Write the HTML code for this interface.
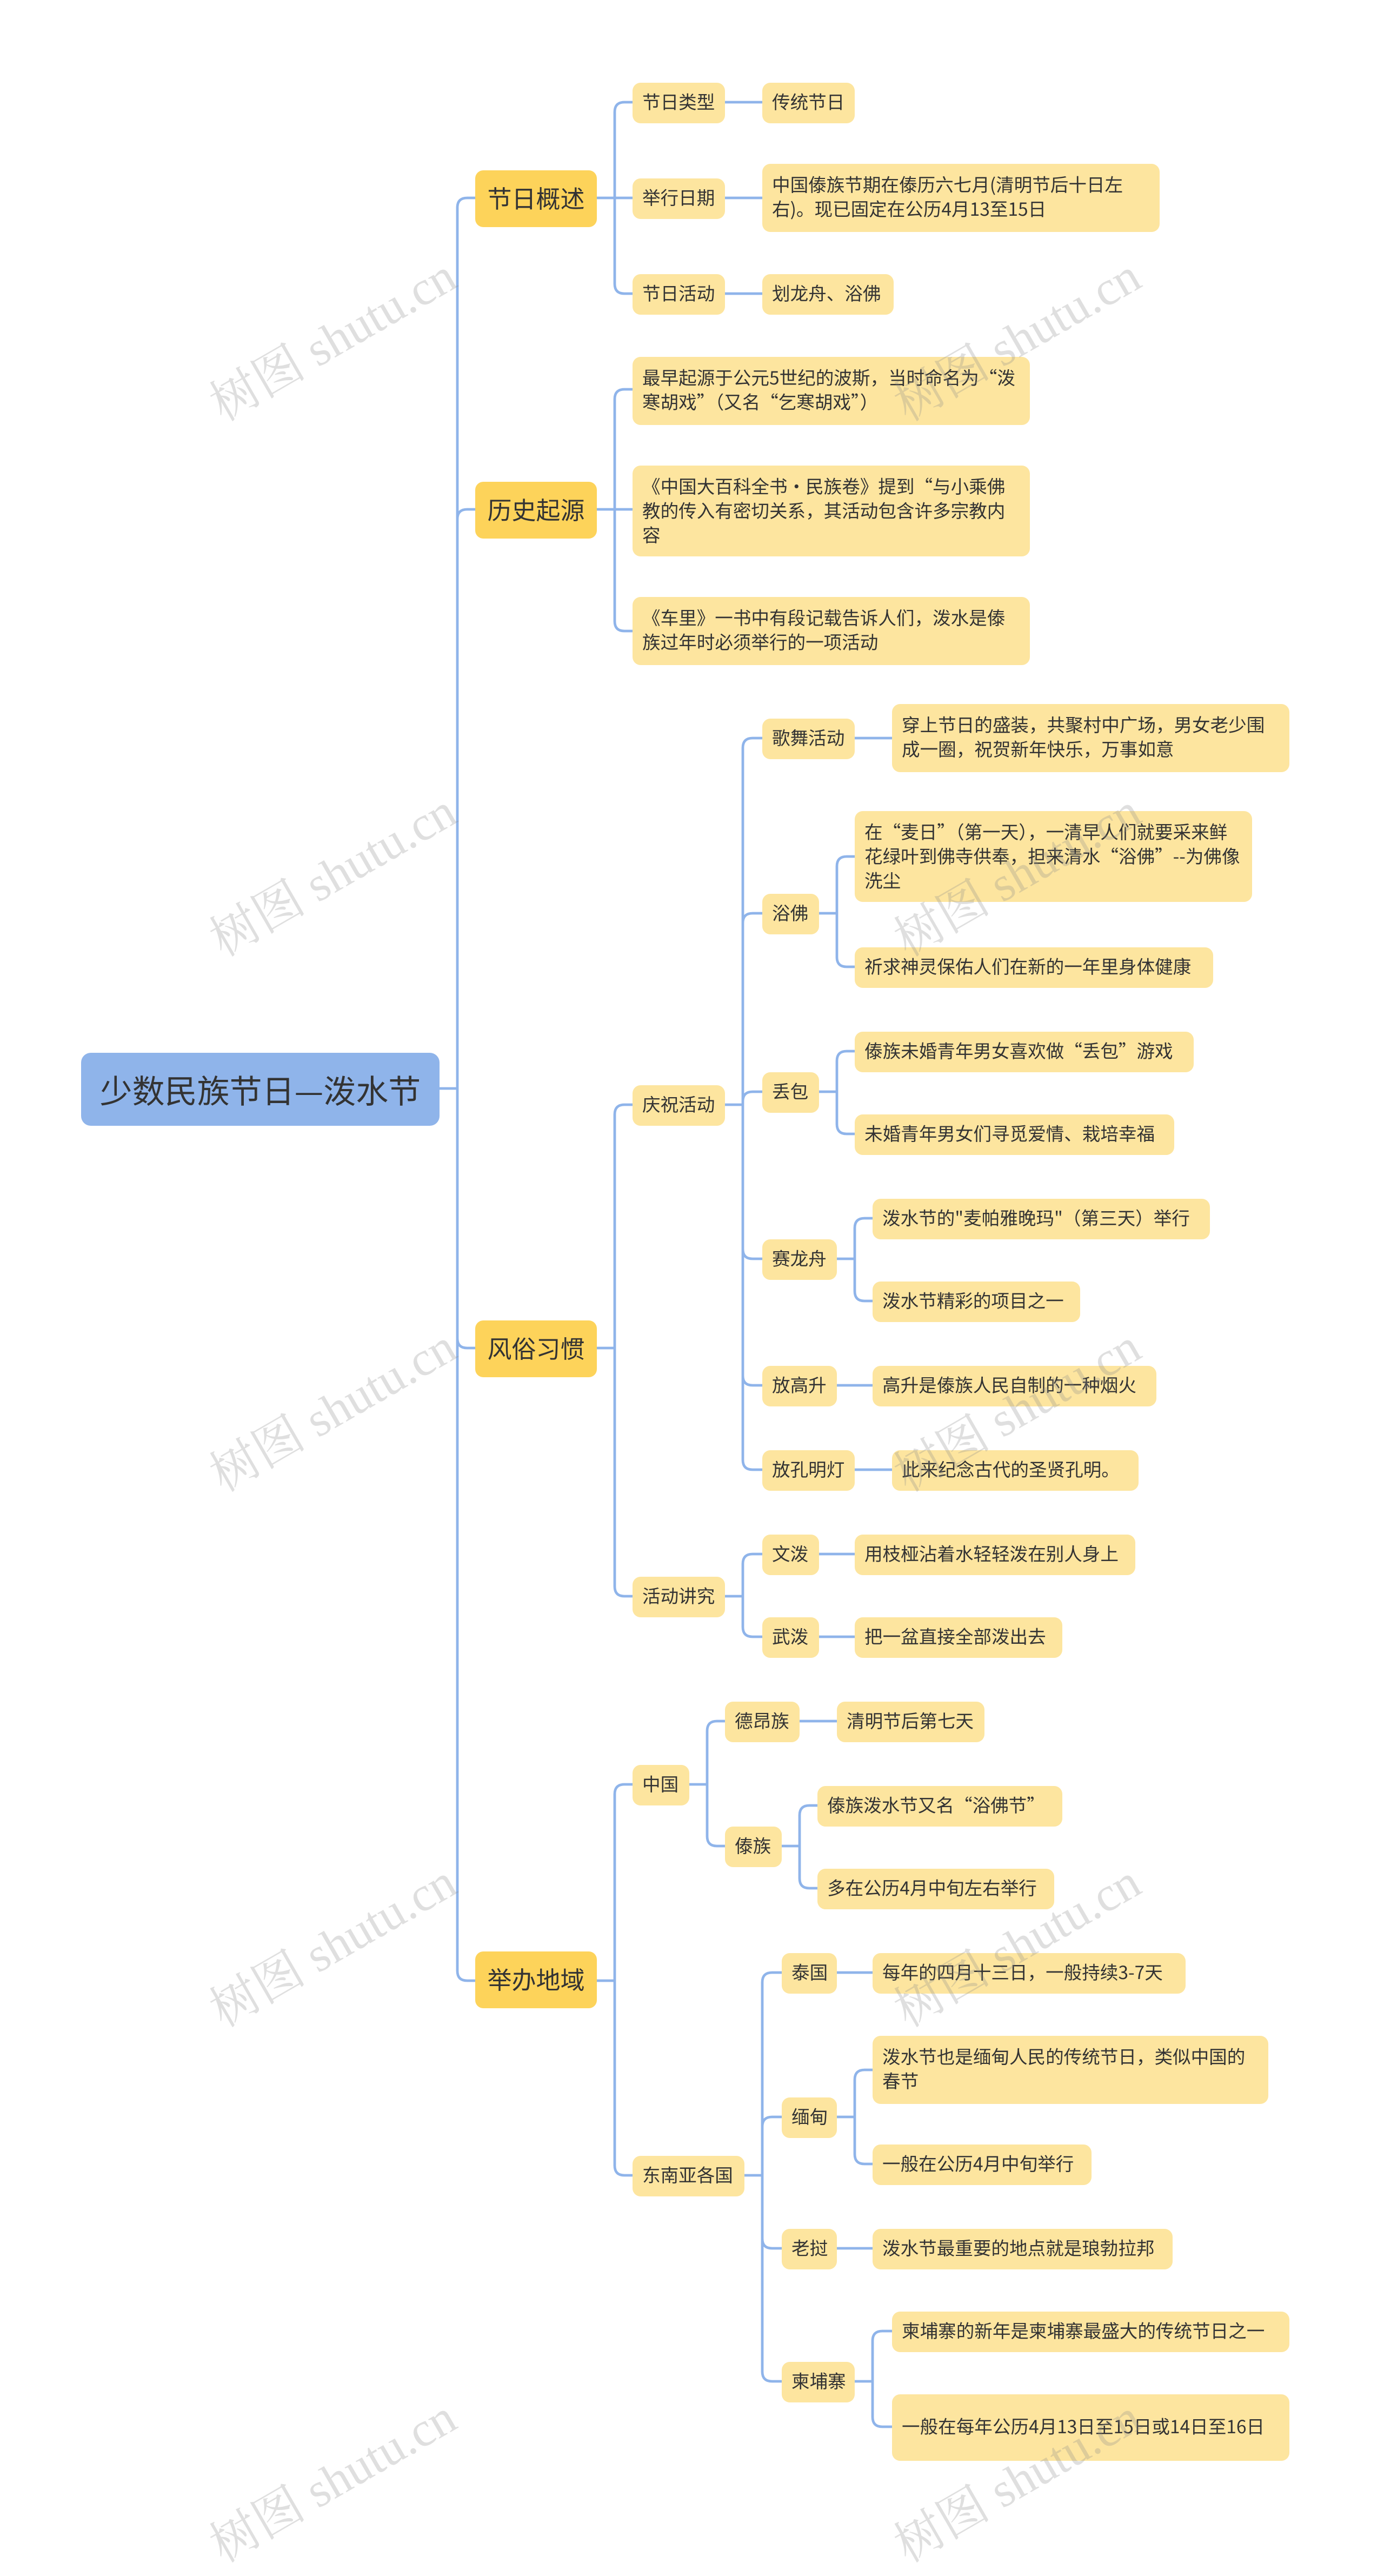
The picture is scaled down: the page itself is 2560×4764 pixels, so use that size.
<!DOCTYPE html>
<html><head><meta charset="utf-8">
<style>
html,body{margin:0;padding:0;background:#fff;}
body{width:2560px;height:4752px;overflow:hidden;position:relative;}
#w{position:absolute;left:0;top:0;width:854px;height:1584px;transform:scale(3);transform-origin:0 0;}
.n{position:absolute;box-sizing:border-box;display:flex;align-items:center;font-family:"Noto Sans CJK SC","Liberation Sans",sans-serif;color:#333;background:#fde59f;border-radius:5px;font-size:11.2px;line-height:15px;padding:0 5px 0 6px;white-space:nowrap;overflow:visible;}
.n.m{white-space:normal;}
.l1{background:#fdd35a;font-size:15px;justify-content:center;padding:0;}
.root{background:#8fb4ea;font-size:20px;justify-content:center;padding:0;color:#333;border-radius:6px;}
.wm{position:absolute;font-family:"Liberation Serif","Noto Serif CJK SC",serif;font-size:30px;color:rgba(140,140,140,0.28);transform:rotate(-30deg);transform-origin:0 0;white-space:nowrap;}
svg{position:absolute;left:0;top:0;}
</style></head><body>
<div id="w">
<svg id="s" width="854" height="1584" viewBox="0 0 854 1584"></svg>

<div class="n root" style="left:50px;top:649px;width:221px;height:45px;">少数民族节日—泼水节</div>

<div class="n l1" style="left:293px;top:105px;width:75px;height:35px;">节日概述</div>
<div class="n l1" style="left:293px;top:297px;width:75px;height:35px;">历史起源</div>
<div class="n l1" style="left:293px;top:814px;width:75px;height:35px;">风俗习惯</div>
<div class="n l1" style="left:293px;top:1203px;width:75px;height:35px;">举办地域</div>

<div class="n" style="left:390px;top:51px;width:57px;height:25px;">节日类型</div>
<div class="n" style="left:470px;top:51px;width:57px;height:25px;">传统节日</div>
<div class="n" style="left:390px;top:110px;width:57px;height:25px;">举行日期</div>
<div class="n m" style="left:470px;top:101px;width:245px;height:42px;">中国傣族节期在傣历六七月(清明节后十日左右)。现已固定在公历4月13至15日</div>
<div class="n" style="left:390px;top:169px;width:57px;height:25px;">节日活动</div>
<div class="n" style="left:470px;top:169px;width:81px;height:25px;">划龙舟、浴佛</div>

<div class="n m" style="left:390px;top:220px;width:245px;height:42px;">最早起源于公元5世纪的波斯，当时命名为“泼寒胡戏”（又名“乞寒胡戏”）</div>
<div class="n m" style="left:390px;top:287px;width:245px;height:56px;">《中国大百科全书·民族卷》提到“与小乘佛教的传入有密切关系，其活动包含许多宗教内容</div>
<div class="n m" style="left:390px;top:368px;width:245px;height:42px;">《车里》一书中有段记载告诉人们，泼水是傣族过年时必须举行的一项活动</div>

<div class="n" style="left:390px;top:669px;width:57px;height:25px;">庆祝活动</div>
<div class="n" style="left:390px;top:972px;width:57px;height:25px;">活动讲究</div>

<div class="n" style="left:470px;top:443px;width:57px;height:25px;">歌舞活动</div>
<div class="n m" style="left:550px;top:434px;width:245px;height:42px;">穿上节日的盛装，共聚村中广场，男女老少围成一圈，祝贺新年快乐，万事如意</div>
<div class="n" style="left:470px;top:551px;width:35px;height:25px;">浴佛</div>
<div class="n m" style="left:527px;top:500px;width:245px;height:56px;">在“麦日”（第一天），一清早人们就要采来鲜花绿叶到佛寺供奉，担来清水“浴佛”--为佛像洗尘</div>
<div class="n" style="left:527px;top:584px;width:221px;height:25px;">祈求神灵保佑人们在新的一年里身体健康</div>
<div class="n" style="left:470px;top:661px;width:35px;height:25px;">丢包</div>
<div class="n" style="left:527px;top:636px;width:209px;height:25px;">傣族未婚青年男女喜欢做“丢包”游戏</div>
<div class="n" style="left:527px;top:687px;width:197px;height:25px;">未婚青年男女们寻觅爱情、栽培幸福</div>
<div class="n" style="left:470px;top:764px;width:46px;height:25px;">赛龙舟</div>
<div class="n" style="left:538px;top:739px;width:208px;height:25px;">泼水节的"麦帕雅晚玛"（第三天）举行</div>
<div class="n" style="left:538px;top:790px;width:128px;height:25px;">泼水节精彩的项目之一</div>
<div class="n" style="left:470px;top:842px;width:46px;height:25px;">放高升</div>
<div class="n" style="left:538px;top:842px;width:175px;height:25px;">高升是傣族人民自制的一种烟火</div>
<div class="n" style="left:470px;top:894px;width:57px;height:25px;">放孔明灯</div>
<div class="n" style="left:550px;top:894px;width:152px;height:25px;">此来纪念古代的圣贤孔明。</div>

<div class="n" style="left:470px;top:946px;width:35px;height:25px;">文泼</div>
<div class="n" style="left:527px;top:946px;width:173px;height:25px;">用枝桠沾着水轻轻泼在别人身上</div>
<div class="n" style="left:470px;top:997px;width:35px;height:25px;">武泼</div>
<div class="n" style="left:527px;top:997px;width:128px;height:25px;">把一盆直接全部泼出去</div>

<div class="n" style="left:390px;top:1088px;width:35px;height:25px;">中国</div>
<div class="n" style="left:390px;top:1329px;width:69px;height:25px;">东南亚各国</div>
<div class="n" style="left:447px;top:1049px;width:46px;height:25px;">德昂族</div>
<div class="n" style="left:516px;top:1049px;width:91px;height:25px;">清明节后第七天</div>
<div class="n" style="left:447px;top:1126px;width:35px;height:25px;">傣族</div>
<div class="n" style="left:504px;top:1101px;width:151px;height:25px;">傣族泼水节又名“浴佛节”</div>
<div class="n" style="left:504px;top:1152px;width:146px;height:25px;">多在公历4月中旬左右举行</div>

<div class="n" style="left:482px;top:1204px;width:34px;height:25px;">泰国</div>
<div class="n" style="left:538px;top:1204px;width:193px;height:25px;">每年的四月十三日，一般持续3-7天</div>
<div class="n" style="left:482px;top:1293px;width:34px;height:25px;">缅甸</div>
<div class="n m" style="left:538px;top:1255px;width:244px;height:42px;">泼水节也是缅甸人民的传统节日，类似中国的春节</div>
<div class="n" style="left:538px;top:1322px;width:135px;height:25px;">一般在公历4月中旬举行</div>
<div class="n" style="left:482px;top:1374px;width:34px;height:25px;">老挝</div>
<div class="n" style="left:538px;top:1374px;width:185px;height:25px;">泼水节最重要的地点就是琅勃拉邦</div>
<div class="n" style="left:482px;top:1456px;width:45px;height:25px;">柬埔寨</div>
<div class="n" style="left:550px;top:1425px;width:245px;height:25px;">柬埔寨的新年是柬埔寨最盛大的传统节日之一</div>
<div class="n m" style="left:550px;top:1476px;width:245px;height:41px;">一般在每年公历4月13日至15日或14日至16日</div>

<div class="wm" style="left:120px;top:230px;">树图 shutu.cn</div>
<div class="wm" style="left:120px;top:560px;">树图 shutu.cn</div>
<div class="wm" style="left:120px;top:890px;">树图 shutu.cn</div>
<div class="wm" style="left:120px;top:1220px;">树图 shutu.cn</div>
<div class="wm" style="left:120px;top:1550px;">树图 shutu.cn</div>
<div class="wm" style="left:542px;top:230px;">树图 shutu.cn</div>
<div class="wm" style="left:542px;top:560px;">树图 shutu.cn</div>
<div class="wm" style="left:542px;top:890px;">树图 shutu.cn</div>
<div class="wm" style="left:542px;top:1220px;">树图 shutu.cn</div>
<div class="wm" style="left:542px;top:1550px;">树图 shutu.cn</div>
</div>
<script>
var E=[
[271,671,282,293,[122,314,831,1221]],
[368,122,379,390,[63,122,181]],
[447,63,458,470,[63]],[447,122,458,470,[122]],[447,181,458,470,[181]],
[368,314,379,390,[240,314,389]],
[368,831,379,390,[681,984]],
[447,681,458,470,[455,563,673,776,854,906]],
[527,455,538,550,[455]],
[505,563,516,527,[528,596]],
[505,673,516,527,[648,699]],
[516,776,527,538,[751,802]],
[516,854,527,538,[854]],
[527,906,538,550,[906]],
[447,984,458,470,[958,1009]],
[505,958,516,527,[958]],[505,1009,516,527,[1009]],
[368,1221,379,390,[1100,1341]],
[425,1100,436,447,[1061,1138]],
[493,1061,504,516,[1061]],
[482,1138,493,504,[1113,1164]],
[459,1341,470,482,[1216,1305,1386,1468]],
[516,1216,527,538,[1216]],
[516,1305,527,538,[1276,1334]],
[516,1386,527,538,[1386]],
[527,1468,538,550,[1437,1496]]
];
var d="",r=6;
E.forEach(function(e){var px=e[0],py=e[1],tx=e[2],cx=e[3];
d+="M"+px+" "+py+"H"+tx;
e[4].forEach(function(cy){
 if(Math.abs(cy-py)<1){d+="M"+tx+" "+cy+"H"+cx;}
 else{var s=cy>py?1:-1;d+="M"+tx+" "+py+"V"+(cy-s*r)+"Q"+tx+" "+cy+" "+(tx+r)+" "+cy+"H"+cx;}
});});
document.getElementById("s").innerHTML='<path d="'+d+'" fill="none" stroke="#8fb4ea" stroke-width="1.6"/>';
</script>
</body></html>
